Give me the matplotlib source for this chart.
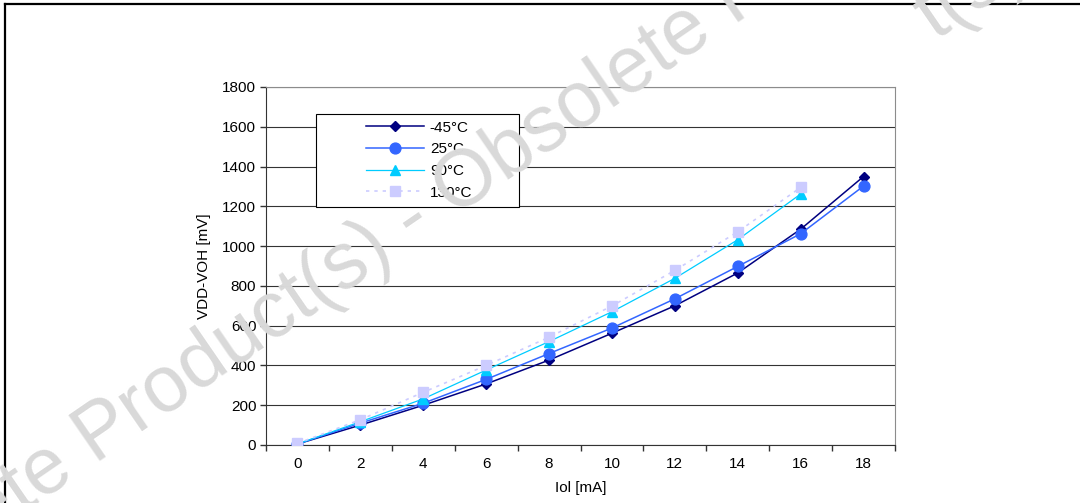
import numpy as np
import matplotlib
matplotlib.use("Agg")
import matplotlib.pyplot as plt
from matplotlib.lines import Line2D
from matplotlib.patches import Rectangle

plt.rcParams["font.family"] = ["Liberation Sans", "DejaVu Sans"]

# Iol categories [mA] and VDD-VOH [mV] per temperature
iol_labels = ["0", "2", "4", "6", "8", "10", "12", "14", "16", "18"]
vdd_voh_m45 = [5, 100, 200, 307, 427, 562, 700, 865, 1085, 1350]
vdd_voh_25 = [5, 110, 210, 330, 460, 588, 735, 898, 1062, 1302]
vdd_voh_90 = [5, 117, 232, 377, 520, 670, 838, 1032, 1262]
vdd_voh_130 = [8, 127, 265, 400, 542, 699, 878, 1072, 1295]
series_names = ["-45°C", "25°C", "90°C", "130°C"]

W, H = 1080, 503
fig = plt.figure(figsize=(W / 100, H / 100), dpi=100)
ax = fig.add_axes([266 / W, 1 - 445 / H, (895 - 266) / W, (445 - 87) / H])

x = np.arange(len(iol_labels))
ax.plot(x, vdd_voh_m45, color="#000080", lw=1.1, marker="D", ms=5.5,
        label=series_names[0], zorder=3)
ax.plot(x, vdd_voh_25, color="#3366FF", lw=1.1, marker="o", ms=7.8,
        label=series_names[1], zorder=3)
ax.plot(x[:len(vdd_voh_90)], vdd_voh_90, color="#00CCFF", lw=0.9, marker="^",
        ms=6.5, label=series_names[2], zorder=3)
ax.plot(x[:len(vdd_voh_130)], vdd_voh_130, color="#CCCCFF", lw=1.2,
        ls=(0, (2, 3)), marker="s", ms=7, label=series_names[3], zorder=3)

ax.set_xlim(-0.5, len(iol_labels) - 0.5)
ax.set_ylim(0, 1800)
ax.set_yticks(range(0, 1801, 200))
ax.set_xticks(x)
ax.set_xticklabels(iol_labels)
ax.set_xticks(np.arange(-0.5, len(iol_labels), 1), minor=True)
ax.tick_params(axis="x", which="major", length=0, pad=9, labelsize=11)
ax.tick_params(axis="x", which="minor", length=4, width=1, color="#333333",
               direction="out")
ax.tick_params(axis="y", length=4, width=1, color="#333333", pad=3, labelsize=11)
ax.grid(axis="y", color="#333333", lw=0.8)
ax.set_axisbelow(True)

for side in ["left", "bottom"]:
    ax.spines[side].set_color("#333333")
for side in ["top", "right"]:
    ax.spines[side].set_color("#8c8c8c")

ax.set_ylabel("VDD-VOH [mV]", fontsize=11)
ax.yaxis.set_label_coords(-0.088, 0.5)
ax.set_xlabel("Iol [mA]", fontsize=11)
ax.xaxis.set_label_coords(0.5, -0.1)

# legend box drawn separately, legend itself without frame
box = Rectangle((316 / W, 1 - 207 / H), (519 - 316) / W, (207 - 114) / H,
                transform=fig.transFigure, facecolor="white",
                edgecolor="black", lw=0.8, zorder=4, clip_on=False)
ax.add_artist(box)
leg = ax.legend(loc="upper left", bbox_to_anchor=(358 / W, 1 - 113 / H),
                bbox_transform=fig.transFigure, frameon=False, borderpad=0,
                handlelength=3.8, handletextpad=0.4, labelspacing=0.5,
                fontsize=11)
leg.set_zorder(5)

# page frame
fig.add_artist(Line2D([5 / W, 1], [1 - 4 / H, 1 - 4 / H], color="black",
                      lw=1.6, transform=fig.transFigure))
fig.add_artist(Line2D([5 / W, 5 / W], [0, 1 - 4 / H], color="black",
                      lw=1.6, transform=fig.transFigure))

# watermark
fig.text(425 / W, 1 - 237 / H, "Obsolete Product(s) - Obsolete Product(s)",
         fontsize=57, color="#d9d9d9", rotation=34.5, rotation_mode="anchor",
         ha="center", va="baseline", zorder=10)
fig.text(935 / W, 1 - 40 / H, "t(s)", fontsize=57, color="#d9d9d9",
         rotation=34.5, rotation_mode="anchor", ha="left", va="baseline",
         zorder=10)

fig.savefig("out.png", dpi=100)
